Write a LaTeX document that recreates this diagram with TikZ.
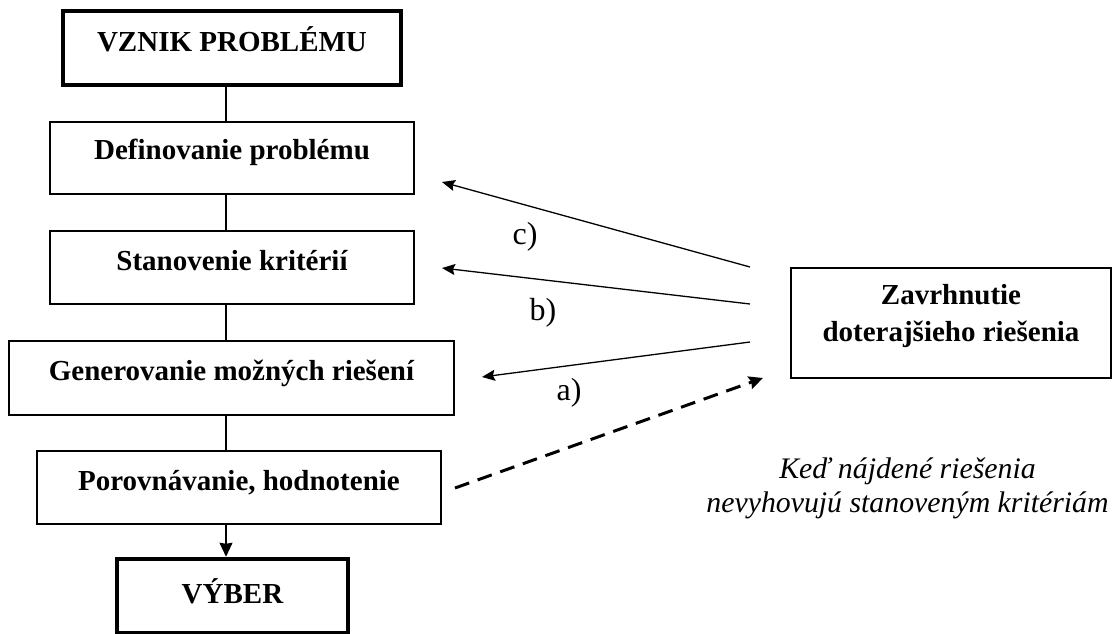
\documentclass[tikz,border=0pt]{standalone}
\usepackage{fontspec}
\setmainfont{Liberation Serif}
\usetikzlibrary{arrows.meta}
\begin{document}
\begin{tikzpicture}[x=1pt,y=-1pt,
  box/.style={draw, line width=1.3pt, inner sep=0pt, align=center,
    font=\fontsize{29}{37}\selectfont\bfseries},
  thickbox/.style={box, line width=3.5pt},
  bshift/.style={text height={10pt+#1}, text depth={10pt-#1}},
  link/.style={line width=1.3pt},
  back/.style={line width=1.3pt, -{Stealth[length=13pt,width=11pt,inset=2pt]}},
  dashedarrow/.style={line width=3pt, dash pattern=on 15pt off 9pt, -{Stealth[length=14pt,width=13pt,inset=2pt]}},
  lab/.style={font=\fontsize{32}{36}\selectfont, inner sep=0pt},
  note/.style={font=\fontsize{29.8}{34}\selectfont\itshape, align=center, inner sep=0pt}
]
\useasboundingbox (0,0) rectangle (1113,634);

\node[thickbox, minimum width=338pt, minimum height=74pt, bshift=4pt] (vznik) at (232,48) {VZNIK PROBLÉMU};
\node[box, minimum width=364pt, minimum height=72pt, bshift=1pt] (def) at (232,158) {Definovanie problému};
\node[box, minimum width=364pt, minimum height=73pt, bshift=2.5pt] (stan) at (232,267.5) {Stanovenie kritérií};
\node[box, minimum width=445pt, minimum height=74pt, bshift=2pt] (gen) at (231.5,378) {Generovanie možných riešení};
\node[box, minimum width=404pt, minimum height=73pt, bshift=2.5pt] (por) at (239,487.5) {Porovnávanie, hodnotenie};
\node[box, line width=4.5pt, minimum width=231pt, minimum height=74pt, bshift=7pt] (vyber) at (232.5,596) {VÝBER};
\node[box, minimum width=320pt, minimum height=110pt, text height=42pt, text depth=6pt] (zav) at (951,323) {Zavrhnutie\\doterajšieho riešenia};

\draw[link] (vznik.south -| 226,0) -- (def.north -| 226,0);
\draw[link] (def.south -| 226,0) -- (stan.north -| 226,0);
\draw[link] (stan.south -| 226,0) -- (gen.north -| 226,0);
\draw[link] (gen.south -| 226,0) -- (por.north -| 226,0);
\draw[link, -{Stealth[length=14pt,width=13pt,inset=1pt]}] (por.south -| 226,0) -- (vyber.north -| 226,0);

\coordinate (cS) at (750,267);
\coordinate (cE) at (442,182);
\coordinate (bS) at (750,304);
\coordinate (bE) at (442,268);
\coordinate (aS) at (750,342);
\coordinate (aE) at (482,377);
\coordinate (dS) at (455,488);
\coordinate (dE) at (763,378);

\draw[back] (cS) -- (cE);
\draw[back] (bS) -- (bE);
\draw[back] (aS) -- (aE);
\draw[dashedarrow] (dS) -- (dE);

\node[lab] (lc) at (525,237) {c)};
\node[lab] (lb) at (543,313) {b)};
\node[lab] (la) at (569,393) {a)};

\node[note, anchor=base] (note) at (907.5,512) {Keď nájdené riešenia\\nevyhovujú stanoveným kritériám};
\end{tikzpicture}
\end{document}
